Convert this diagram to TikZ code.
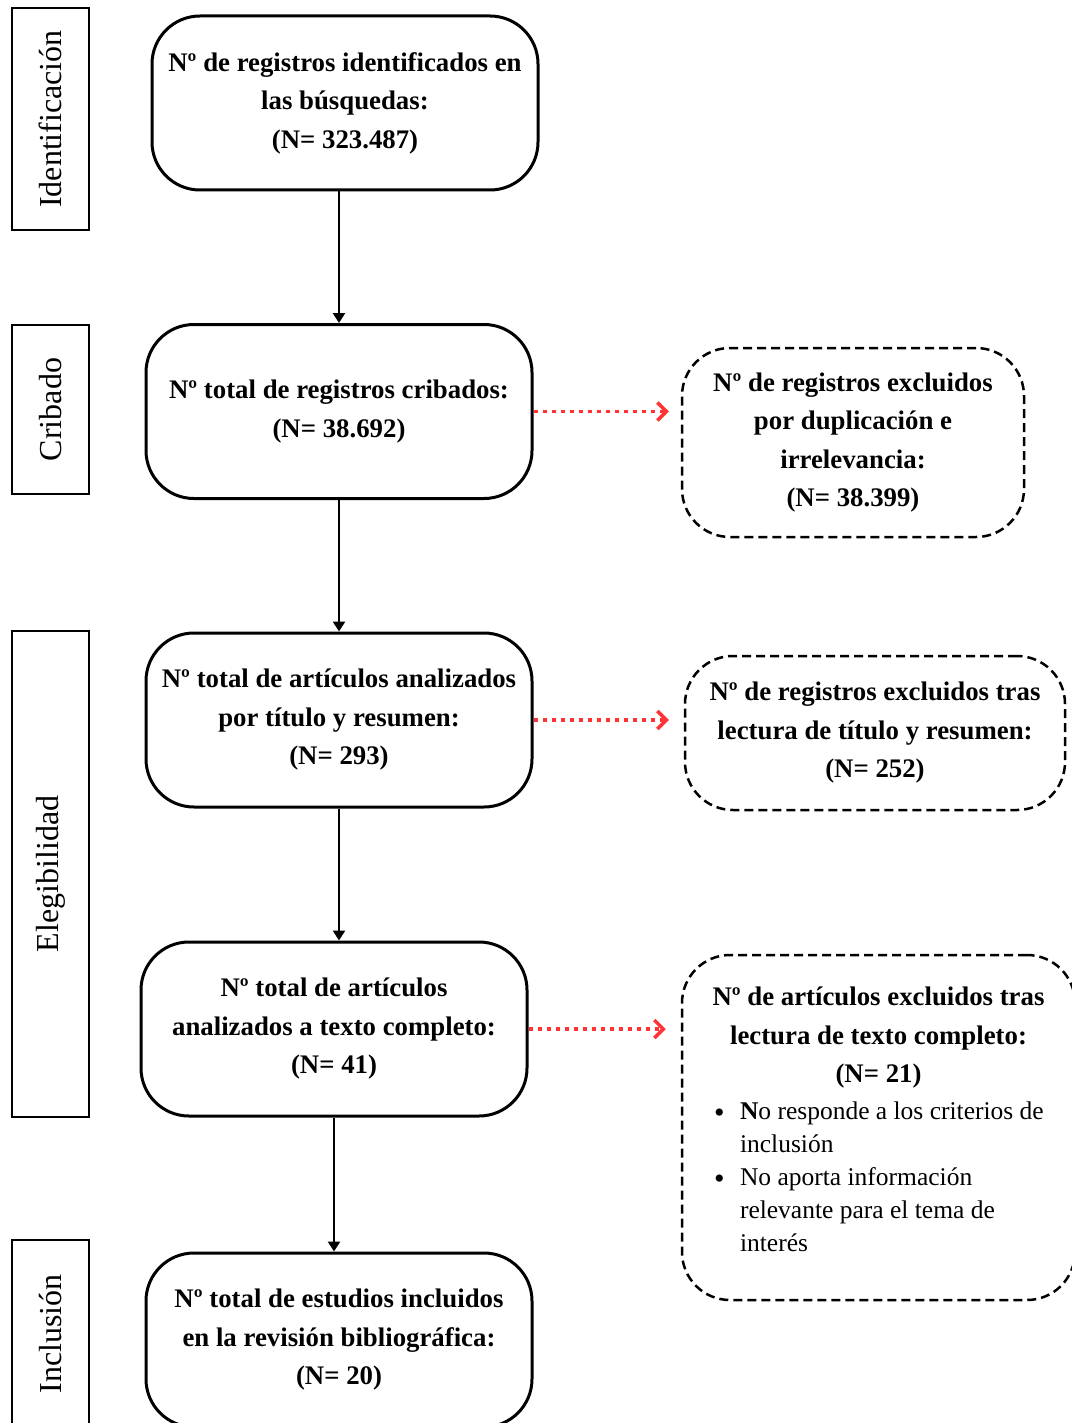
\documentclass[tikz,border=0pt]{standalone}
\usepackage{fontspec}
\setmainfont{Liberation Serif}
\usetikzlibrary{arrows.meta}
\definecolor{skipred}{RGB}{255,51,51}

\begin{document}
\begin{tikzpicture}[x=1pt,y=-1pt]
    \tikzstyle{every node}+=[inner sep=0pt]
    \tikzstyle{mainbox}=[draw, line width=3pt, rounded corners=48pt, minimum width=386pt, minimum height=174pt, align=center, font=\bfseries\fontsize{26.8}{38.5}\selectfont]
    \tikzstyle{exclbox}=[draw, line width=2.5pt, dash pattern=on 9pt off 5pt, rounded corners=48pt, align=center, font=\bfseries\fontsize{26.8}{38.5}\selectfont]
    \tikzstyle{phase}=[draw, line width=2.5pt, rotate=90, minimum height=77pt, font=\fontsize{32}{38}\selectfont]
    \tikzstyle{flow}=[line width=2.5pt, -{Triangle[length=10pt,width=12pt]}]
    \tikzstyle{skip}=[skipred, line width=3.5pt, dash pattern=on 4.5pt off 4.5pt, -{Straight Barb[length=9pt,width=18pt,line width=3.5pt]}]
    \useasboundingbox (0,0) rectangle (1071,1423);
    \draw (50.5,119) node[phase, minimum width=222pt] (s1) {Identificación};
    \draw (50.5,409.5) node[phase, minimum width=169pt] (s2) {Cribado};
    \draw (50.5,874) node[phase, minimum width=486pt] (s3) {Elegibilidad};
    \draw (50.5,1334) node[phase, minimum width=188pt] (s4) {Inclusión};
    \draw (345,103) node[mainbox] (b1) {Nº de registros identificados en\\ las búsquedas:\\ (N= 323.487)};
    \draw (339,411.5) node[mainbox] (b2) {Nº total de registros cribados:\\ (N= 38.692)};
    \draw (339,720) node[mainbox] (b3) {Nº total de artículos analizados\\ por título y resumen:\\ (N= 293)};
    \draw (334,1029) node[mainbox] (b4) {Nº total de artículos\\ analizados a texto completo:\\ (N= 41)};
    \draw (339,1340) node[mainbox] (b5) {Nº total de estudios incluidos\\ en la revisión bibliográfica:\\ (N= 20)};
    \draw (853,442.5) node[exclbox, minimum width=342pt, minimum height=189pt] (r1) {Nº de registros excluidos\\ por duplicación e\\ irrelevancia:\\ (N= 38.399)};
    \draw (875,733) node[exclbox, minimum width=380pt, minimum height=154pt] (r2) {Nº de registros excluidos tras\\ lectura de título y resumen:\\ (N= 252)};
    \draw (878.5,1127.5) node[exclbox, minimum width=393pt, minimum height=345pt] (r3) {\begin{minipage}{369pt}
        {\centering Nº de artículos excluidos tras\\ lectura de texto completo:\\ (N= 21)\par}
        \vspace{4pt}\fontsize{25.5}{33}\selectfont\mdseries\raggedright
        \hangindent=46pt\hangafter=1\noindent\makebox[46pt][l]{\hspace{20pt}\raisebox{-3pt}{\fontsize{30}{30}\selectfont\textbullet}}\textbf{N}o responde a los criterios de\newline inclusión\par
        \hangindent=46pt\hangafter=1\noindent\makebox[46pt][l]{\hspace{20pt}\raisebox{-3pt}{\fontsize{30}{30}\selectfont\textbullet}}No aporta información\newline relevante para el tema de\newline interés\par
        \vspace{16pt}
        \end{minipage}};
    \draw [flow] (b2.north |- b1.south) -- (b2.north);
    \draw [flow] (b2.south) -- (b3.north);
    \draw [flow] (b3.south) -- (b3.south |- b4.north);
    \draw [flow] (b4.south) -- (b4.south |- b5.north);
    \draw [skip, shorten >=12pt] (b2.east) -- (b2.east -| r1.west);
    \draw [skip, shorten >=15pt] (b3.east) -- (b3.east -| r2.west);
    \draw [skip, shorten >=15pt] (b4.east) -- (b4.east -| r3.west);
\end{tikzpicture}
\end{document}
